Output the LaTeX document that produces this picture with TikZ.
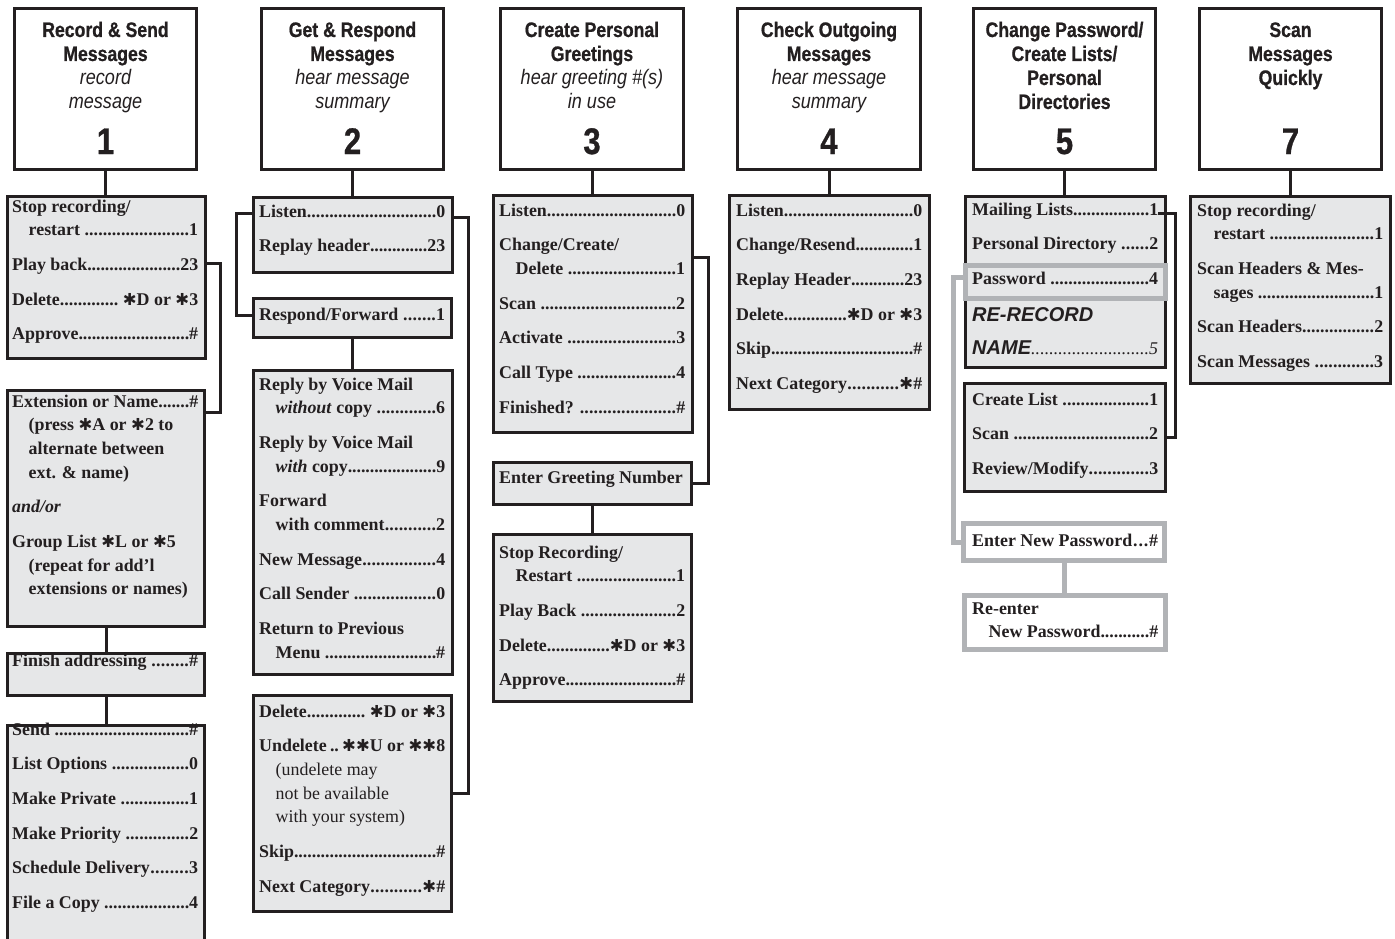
\documentclass[tikz,border=0pt]{standalone}
\usepackage{fontspec}
\setmainfont{Liberation Serif}
\newfontfamily\hdfont[FakeStretch=0.86]{Liberation Sans}
\newfontfamily\hdbold[FakeStretch=0.84,FakeBold=0.8]{Liberation Sans}
\newfontfamily\rrfamily{Liberation Sans}
\newfontfamily\symf{DejaVu Sans}
\usetikzlibrary{fit}
\definecolor{ink}{HTML}{231F20}
\definecolor{boxfill}{HTML}{E6E7E8}
\definecolor{graybd}{HTML}{B1B3B6}
\newcommand\kstar{{\symf\bfseries\fontsize{16.5}{16.5}\selectfont\char"2731}}
\newcommand\mdots{\xleaders\hbox to 4.4pt{\hss.\hss}\hfill}
\newcommand\mrow[2]{\hbox to\hsize{#1\mdots#2}}
\newcommand\mline[1]{\hbox to\hsize{#1\hss}}
\newcommand\mind{\hskip 16.5pt}
\newcommand\mgap{\vskip 11pt}
\newcommand\mtext[1]{\vtop{\hsize=186pt\lineskiplimit=-50pt\baselineskip=23.7pt #1}}
\newcommand\hdl[1]{\hbox to\hsize{\hss#1\hss}}
\newcommand\hdit[1]{\hbox to\hsize{\hss{\hdfont\mdseries\itshape #1}\hss}}
\newcommand\hdtext[1]{\vtop{\hsize=182pt\lineskiplimit=-50pt\baselineskip=24pt #1}}
\newcommand\rrtext[1]{{\rrfamily\bfseries\itshape\fontsize{20}{20}\selectfont #1}}
\newcommand\bx[6]{\node[#1, fit={(#3+1.5,#4+1.5)(#5-1.5,#6-1.5)}] (#2) {};}
\tikzset{
  hdbox/.style={draw=ink, line width=3pt, fill=white, inner sep=0pt},
  mbox/.style={draw=ink, line width=3pt, fill=boxfill, inner sep=0pt},
  gbox/.style={draw=graybd, line width=5pt, fill=boxfill, inner sep=0pt},
  gwbox/.style={draw=graybd, line width=5pt, fill=white, inner sep=0pt},
  conn/.style={draw=ink, line width=3pt},
  gconn/.style={draw=graybd, line width=5pt},
  mtxt/.style={inner sep=0pt, anchor=base west, text=ink, font=\bfseries\fontsize{17.9}{23.7}\selectfont},
  htxt/.style={inner sep=0pt, anchor=base, text=ink, font=\hdbold\bfseries\fontsize{21}{24}\selectfont},
  hnum/.style={inner sep=0pt, anchor=base, text=ink, font=\hdbold\bfseries\fontsize{37}{37}\selectfont},
}
\begin{document}
\begin{tikzpicture}[x=1pt,y=-1pt]
\useasboundingbox (0,0) rectangle (1395,939);
\clip (0,0) rectangle (1395,939);

% ---------- header boxes ----------
\bx{hdbox}{h1}{13}{7}{198}{171}
\bx{hdbox}{h2}{260}{7}{445}{171}
\bx{hdbox}{h3}{499}{7}{685}{171}
\bx{hdbox}{h4}{736}{7}{922}{171}
\bx{hdbox}{h5}{972}{7}{1157}{171}
\bx{hdbox}{h7}{1198}{7}{1383}{171}

\node[htxt] (t1) at (105.5,37) {\hdtext{\hdl{Record \& Send}\hdl{Messages}\hdit{record}\hdit{message}}};
\node[htxt] (t2) at (352.5,37) {\hdtext{\hdl{Get \& Respond}\hdl{Messages}\hdit{hear message}\hdit{summary}}};
\node[htxt] (t3) at (592,37) {\hdtext{\hdl{Create Personal}\hdl{Greetings}\hdit{hear greeting \#(s)}\hdit{in use}}};
\node[htxt] (t4) at (829,37) {\hdtext{\hdl{Check Outgoing}\hdl{Messages}\hdit{hear message}\hdit{summary}}};
\node[htxt] (t5) at (1064.5,37) {\hdtext{\hdl{Change Password/}\hdl{Create Lists/}\hdl{Personal}\hdl{Directories}}};
\node[htxt] (t7) at (1290.5,37) {\hdtext{\hdl{Scan}\hdl{Messages}\hdl{Quickly}}};

\node[hnum] (n1) at (105.5,154) {1};
\node[hnum] (n2) at (352.5,154) {2};
\node[hnum] (n3) at (592,154) {3};
\node[hnum] (n4) at (829,154) {4};
\node[hnum] (n5) at (1064.5,154) {5};
\node[hnum] (n7) at (1290.5,154) {7};

% ---------- menu boxes ----------
\bx{mbox}{a}{6}{195}{207}{360}
\bx{mbox}{b}{6}{389}{206}{628}
\bx{mbox}{c}{6}{652}{206}{697}
\bx{mbox}{d}{6}{724}{206}{960}
\bx{mbox}{e}{252}{196}{454}{274}
\bx{mbox}{f}{252}{297}{453}{339}
\bx{mbox}{g}{252}{369}{454}{676}
\bx{mbox}{hh}{252}{694}{453}{913}
\bx{mbox}{i}{492}{194}{694}{434}
\bx{mbox}{j}{492}{461}{693}{506}
\bx{mbox}{k}{492}{533}{693}{703}
\bx{mbox}{l}{728}{194}{931}{411}
\bx{mbox}{m}{964}{195}{1167}{369}
\bx{mbox}{n}{963}{382}{1167}{493}
\bx{mbox}{q}{1189}{195}{1392}{385}
\node[gbox, fit={(965,265.5)(1165,298.5)}] (pw) {};
\node[gwbox, fit={(963.5,523.5)(1164.5,560.5)}] (o) {};
\node[gwbox, fit={(964.5,595.5)(1165.5,649.5)}] (p) {};

% ---------- menu texts ----------
\node[mtxt] (ta) at (12,212) {\mtext{%
  \mline{Stop recording/}\mrow{\mind restart }{1}\mgap
  \mrow{Play back}{23}\mgap
  \mrow{Delete}{ \kstar D or \kstar 3}\mgap
  \mrow{Approve}{\#}}};
\node[mtxt] (tb) at (12,407) {\mtext{%
  \mrow{Extension or Name}{\#}
  \mline{\mind(press \kstar A or \kstar 2 to}
  \mline{\mind alternate between}
  \mline{\mind ext. \& name)}\mgap
  \mline{\itshape and/or}\mgap
  \mline{Group List \kstar L or \kstar 5}
  \mline{\mind(repeat for add’l}
  \mline{\mind extensions or names)}}};
\node[mtxt] (tc) at (12,666) {\mtext{\mrow{Finish addressing }{\#}}};
\node[mtxt] (td) at (12,735) {\mtext{%
  \mrow{Send }{\#}\mgap
  \mrow{List Options }{0}\mgap
  \mrow{Make Private }{1}\mgap
  \mrow{Make Priority }{2}\mgap
  \mrow{Schedule Delivery}{3}\mgap
  \mrow{File a Copy }{4}}};

\node[mtxt] (te) at (259,217) {\mtext{\mrow{Listen}{0}\mgap\mrow{Replay header}{23}}};
\node[mtxt] (tf) at (259,320) {\mtext{\mrow{Respond/Forward }{1}}};
\node[mtxt] (tg) at (259,390) {\mtext{%
  \mline{Reply by Voice Mail}\mrow{\mind\textit{without} copy }{6}\mgap
  \mline{Reply by Voice Mail}\mrow{\mind\textit{with} copy}{9}\mgap
  \mline{Forward}\mrow{\mind with comment}{2}\mgap
  \mrow{New Message}{4}\mgap
  \mrow{Call Sender }{0}\mgap
  \mline{Return to Previous}\mrow{\mind Menu }{\#}}};
\node[mtxt] (thh) at (259,717) {\mtext{%
  \mrow{Delete}{ \kstar D or \kstar 3}\mgap
  \hbox to\hsize{Undelete\hfill..\hfill\kstar\kstar U or \kstar\kstar 8}
  \mline{\mdseries\mind(undelete may}
  \mline{\mdseries\mind not be available}
  \mline{\mdseries\mind with your system)}\mgap
  \mrow{Skip}{\#}\mgap
  \mrow{Next Category}{\kstar\#}}};

\node[mtxt] (ti) at (499,216) {\mtext{%
  \mrow{Listen}{0}\mgap
  \mline{Change/Create/}\mrow{\mind Delete }{1}\mgap
  \mrow{Scan }{2}\mgap
  \mrow{Activate }{3}\mgap
  \mrow{Call Type }{4}\mgap
  \mrow{Finished? }{\#}}};
\node[mtxt] (tj) at (499,483) {\mtext{\mline{Enter Greeting Number}}};
\node[mtxt] (tk) at (499,558) {\mtext{%
  \mline{Stop Recording/}\mrow{\mind Restart }{1}\mgap
  \mrow{Play Back }{2}\mgap
  \mrow{Delete}{\kstar D or \kstar 3}\mgap
  \mrow{Approve}{\#}}};

\node[mtxt] (tl) at (736,216) {\mtext{%
  \mrow{Listen}{0}\mgap
  \mrow{Change/Resend}{1}\mgap
  \mrow{Replay Header}{23}\mgap
  \mrow{Delete}{\kstar D or \kstar 3}\mgap
  \mrow{Skip}{\#}\mgap
  \mrow{Next Category}{\kstar\#}}};

\node[mtxt] (tm) at (972,215) {\mtext{%
  \mrow{Mailing Lists}{1}\mgap
  \mrow{Personal Directory }{2}\mgap
  \mrow{Password }{4}\vskip 13pt
  \mline{\rrtext{RE-RECORD}}\vskip 9.3pt
  \hbox to\hsize{\rrtext{NAME}\mdseries\itshape\mdots 5}}};
\node[mtxt] (tn) at (972,405) {\mtext{%
  \mrow{Create List }{1}\mgap
  \mrow{Scan }{2}\mgap
  \mrow{Review/Modify}{3}}};
\node[mtxt] (to) at (972,546) {\mtext{\mrow{Enter New Password}{\#}}};
\node[mtxt] (tp) at (972,614) {\mtext{\mline{Re-enter}\mrow{\mind New Password}{\#}}};

\node[mtxt] (tq) at (1197,216) {\mtext{%
  \mline{Stop recording/}\mrow{\mind restart }{1}\mgap
  \mline{Scan Headers \& Mes-}\mrow{\mind sages }{1}\mgap
  \mrow{Scan Headers}{2}\mgap
  \mrow{Scan Messages }{3}}};

% ---------- connectors ----------
\draw[conn] (h1.south) -- (h1.south |- a.north);
\draw[conn] (h2.south) -- (h2.south |- e.north);
\draw[conn] (h3.south) -- (h3.south |- i.north);
\draw[conn] (h4.south) -- (h4.south |- l.north);
\draw[conn] (h5.south) -- (h5.south |- m.north);
\draw[conn] (h7.south) -- (h7.south |- q.north);

\draw[conn] (a.east |- 0,263) -- (220,263) |- (b.east |- 0,412);
\draw[conn] (b.south) -- (b.south |- c.north);
\draw[conn] (c.south) -- (c.south |- d.north);

\draw[conn] (e.west |- 0,213) -- (236,213) |- (f.west |- 0,315);
\draw[conn] (e.east |- 0,217) -- (468,217) |- (hh.east |- 0,793);
\draw[conn] (f.south) -- (f.south |- g.north);

\draw[conn] (i.east |- 0,257) -- (708,257) |- (j.east);
\draw[conn] (j.south) -- (j.south |- k.north);

\coordinate (ml) at (1158,213);
\draw[conn] (ml) -- (1175,213) |- (n.east);
\draw[gconn] (pw.west |- 0,277) -- (953,277) |- (o.west);
\draw[gconn] (o.south) -- (o.south |- p.north);
\end{tikzpicture}
\end{document}
